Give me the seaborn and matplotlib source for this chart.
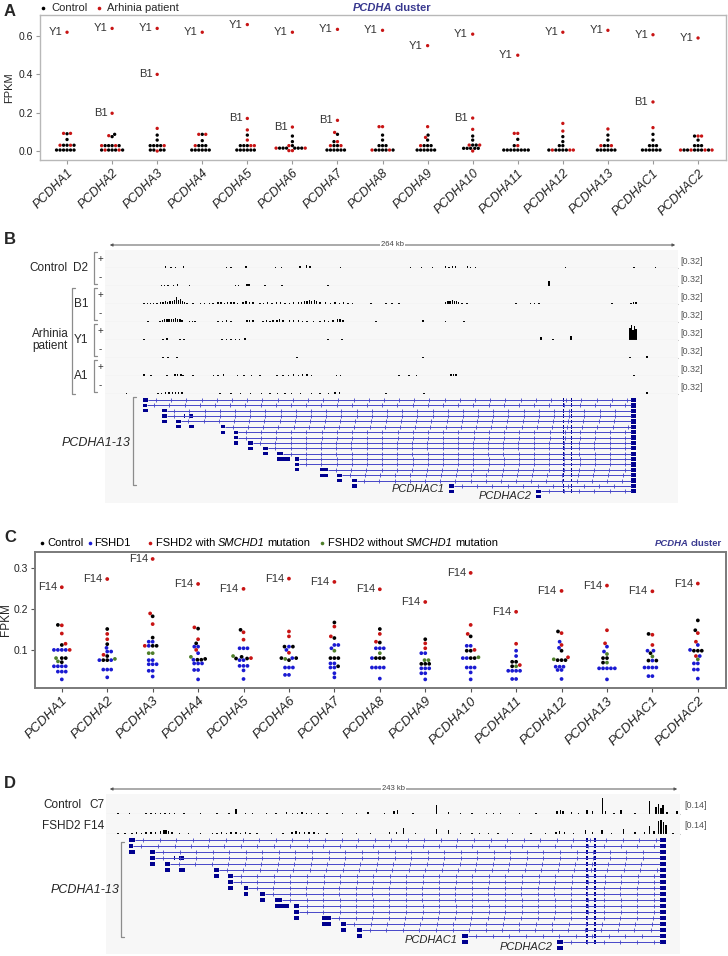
import numpy as np
import pandas as pd
import matplotlib
matplotlib.use("Agg")
import matplotlib.pyplot as plt
from matplotlib import font_manager
from matplotlib.lines import Line2D
from matplotlib.patches import Rectangle, FancyArrowPatch
import seaborn as sns

W, H = 728, 956

genes = ["PCDHA1", "PCDHA2", "PCDHA3", "PCDHA4", "PCDHA5", "PCDHA6", "PCDHA7",
         "PCDHA8", "PCDHA9", "PCDHA10", "PCDHA11", "PCDHA12", "PCDHA13",
         "PCDHAC1", "PCDHAC2"]

# ---- panel A: arhinia RNA-seq, FPKM per gene ----
a_control = [
    [0.09, 0.06, 0.03, 0.03, 0.03, 0.005, 0.005, 0.005, 0.005, 0.005, 0.005],
    [0.087, 0.075, 0.028, 0.028, 0.028, 0.028, 0.005, 0.005, 0.005, 0.005, 0.005],
    [0.083, 0.057, 0.028, 0.028, 0.028, 0.028, 0.005, 0.005, 0.005, 0.005],
    [0.087, 0.054, 0.028, 0.028, 0.028, 0.005, 0.005, 0.005, 0.005, 0.005, 0.005],
    [0.083, 0.028, 0.028, 0.028, 0.005, 0.005, 0.005, 0.005, 0.005, 0.005],
    [0.078, 0.049, 0.028, 0.015, 0.015, 0.015, 0.015, 0.015, 0.015],
    [0.087, 0.049, 0.028, 0.028, 0.005, 0.005, 0.005, 0.005, 0.005, 0.005],
    [0.083, 0.057, 0.028, 0.028, 0.028, 0.005, 0.005, 0.005, 0.005, 0.005],
    [0.083, 0.057, 0.028, 0.028, 0.028, 0.005, 0.005, 0.005, 0.005, 0.005, 0.005],
    [0.078, 0.057, 0.031, 0.031, 0.014, 0.014, 0.014, 0.014, 0.014],
    [0.061, 0.028, 0.005, 0.005, 0.005, 0.005, 0.005, 0.005, 0.005, 0.005],
    [0.075, 0.049, 0.028, 0.028, 0.005, 0.005, 0.005, 0.005, 0.005],
    [0.083, 0.057, 0.028, 0.028, 0.005, 0.005, 0.005, 0.005, 0.005, 0.005],
    [0.087, 0.057, 0.028, 0.028, 0.028, 0.005, 0.005, 0.005, 0.005, 0.005, 0.005],
    [0.078, 0.057, 0.028, 0.028, 0.028, 0.005, 0.005, 0.005, 0.005, 0.005, 0.005],
]
a_patient = [
    [0.092, 0.092, 0.03, 0.03],
    [0.08, 0.028, 0.028, 0.005, 0.005],
    [0.118, 0.0, 0.028],
    [0.087, 0.087, 0.028],
    [0.11, 0.057, 0.028, 0.028],
    [0.028, 0.015, 0.015, 0.002, 0.002],
    [0.097, 0.049, 0.028, 0.028],
    [0.127, 0.127, 0.005, 0.005],
    [0.127, 0.071, 0.028],
    [0.113, 0.031, 0.031, 0.0],
    [0.092, 0.092, 0.028],
    [0.144, 0.104, 0.005, 0.005, 0.005],
    [0.115, 0.028, 0.028],
    [0.122],
    [0.078, 0.078, 0.005, 0.005, 0.005, 0.005],
]
a_y1 = [0.62, 0.64, 0.64, 0.62, 0.66, 0.62, 0.635, 0.63, 0.55, 0.61, 0.50, 0.62, 0.63, 0.607, 0.59]
a_b1 = [None, 0.197, 0.40, None, 0.17, 0.125, 0.16, None, None, 0.172, None, None, None, 0.256, None]

# ---- panel C: FSHD RNA-seq, FPKM per gene ----
c_control = [
    [0.161, 0.112, 0.08, 0.08, 0.07], [0.151, 0.114, 0.085, 0.075, 0.075],
    [0.182, 0.13, 0.11, 0.11], [0.152, 0.116, 0.076, 0.076, 0.078],
    [0.149, 0.079, 0.079, 0.083], [0.108, 0.108, 0.08, 0.08, 0.075],
    [0.167, 0.129, 0.08, 0.08, 0.08, 0.06], [0.151, 0.118, 0.08, 0.08, 0.08],
    [0.126, 0.066, 0.066, 0.066], [0.133, 0.098, 0.098, 0.08, 0.08],
    [0.071, 0.071, 0.06], [0.145, 0.098, 0.075, 0.075, 0.075],
    [0.08, 0.08, 0.069], [0.139, 0.092, 0.074, 0.074],
    [0.172, 0.148, 0.098, 0.098, 0.098],
]
c_fshd1 = [
    [0.1, 0.1, 0.1, 0.1, 0.06, 0.06, 0.06, 0.06, 0.047, 0.047, 0.047, 0.028],
    [0.105, 0.096, 0.096, 0.075, 0.075, 0.052, 0.052, 0.052, 0.033],
    [0.12, 0.12, 0.11, 0.075, 0.075, 0.065, 0.065, 0.065, 0.049, 0.049, 0.035],
    [0.108, 0.108, 0.092, 0.076, 0.067, 0.067, 0.067, 0.051, 0.051, 0.028],
    [0.104, 0.104, 0.104, 0.075, 0.075, 0.061, 0.061, 0.061, 0.05, 0.029],
    [0.108, 0.1, 0.08, 0.057, 0.057, 0.057, 0.039, 0.039],
    [0.112, 0.112, 0.104, 0.067, 0.067, 0.057, 0.057, 0.043, 0.033],
    [0.104, 0.104, 0.104, 0.08, 0.057, 0.057, 0.057, 0.057, 0.03],
    [0.092, 0.092, 0.055, 0.055, 0.055, 0.043, 0.043, 0.028],
    [0.11, 0.11, 0.08, 0.08, 0.057, 0.057, 0.057, 0.045, 0.028],
    [0.098, 0.085, 0.049, 0.049, 0.049, 0.049, 0.029, 0.029],
    [0.12, 0.105, 0.059, 0.059, 0.059, 0.051, 0.051, 0.029],
    [0.108, 0.096, 0.055, 0.055, 0.055, 0.055, 0.055, 0.028],
    [0.098, 0.098, 0.074, 0.057, 0.057, 0.057, 0.057, 0.036, 0.036],
    [0.112, 0.1, 0.085, 0.067, 0.067, 0.052, 0.052, 0.03],
]
c_fshd2_mut = [
    [0.14, 0.115, 0.16, 0.1], [0.139, 0.126, 0.088], [0.189, 0.163, 0.11],
    [0.155, 0.126, 0.1], [0.143, 0.125, 0.08], [0.145, 0.133, 0.093],
    [0.157, 0.133], [0.139, 0.12], [0.116, 0.104], [0.161, 0.139, 0.1],
    [0.115, 0.063], [0.141, 0.112, 0.082], [0.148, 0.116], [0.137, 0.112],
    [0.141, 0.12, 0.085],
]
c_fshd2_nomut = [
    [0.08, 0.072], [0.078], [0.092, 0.092], [0.083], [0.085], [0.078], [0.098],
    [0.092], [0.075, 0.075], [0.082], [0.06], [0.077], [0.09, 0.069], [0.084],
    [0.077],
]
c_f14 = [0.253, 0.273, 0.322, 0.261, 0.249, 0.274, 0.266, 0.248, 0.217, 0.288,
         0.193, 0.244, 0.257, 0.243, 0.262]

# ---- panel B: strand-specific coverage (position kb, height), window 264 kb ----
b_d2_plus = [(28.0, .03), (30.4, .02), (32.6, .02), (36.1, .03), (56.1, .02), (58.1, .02),
             (65.0, .03), (78.5, .02), (81.4, .02), (89.8, .03), (92.9, .05), (94.5, .04),
             (108.6, .02), (140.9, .02), (145.8, .02), (150.8, .02), (157.0, .04), (158.5, .02),
             (160.0, .04), (161.6, .03), (167.0, .03), (168.5, .02), (170.8, .02), (212.3, .01),
             (243.7, .02), (253.7, .02)]
b_d2_minus = [(26.0, .02), (27.5, .02), (29.0, .02), (31.5, .02), (33.5, .03), (39.0, .02),
              (60.0, .02), (61.4, .02), (65.4, .04), (66.4, .03), (73.7, .02), (81.5, .02),
              (102.8, .02), (204.6, .08)]
b_b1_plus = [(18.0, .01), (19.5, .02), (21.0, .01), (22.5, .02), (24.0, .02), (25.5, .03),
             (26.7, .04), (27.8, .05), (28.9, .04), (30.0, .06), (31.0, .05), (32.0, .08),
             (33.0, .12), (34.0, .07), (34.8, .09), (35.6, .06), (36.5, .04), (37.8, .02),
             (40.5, .02), (44.0, .01), (46.0, .02), (48.0, .02), (49.8, .01), (52.0, .03),
             (53.5, .03), (55.0, .02), (56.5, .04), (58.0, .03), (59.5, .03), (61.0, .02),
             (63.6, .04), (65.0, .05), (66.5, .03), (68.2, .04), (71.4, .02), (73.0, .02),
             (75.0, .03), (77.0, .02), (79.0, .03), (81.0, .03), (83.0, .02), (85.0, .02),
             (87.0, .03), (89.0, .03), (90.5, .04), (91.8, .05), (93.0, .06), (94.2, .08),
             (95.3, .06), (96.5, .07), (97.5, .05), (99.0, .04), (101.5, .03), (104.0, .02),
             (106.0, .03), (108.0, .02), (110.0, .03), (112.0, .02), (114.0, .02), (122.6, .02),
             (129.5, .02), (132.2, .02), (135.4, .01), (157.0, .03), (158.0, .05), (159.0, .06),
             (160.0, .07), (161.0, .06), (162.0, .05), (163.0, .03), (164.5, .02), (166.8, .02),
             (189.3, .02), (196.0, .02), (198.0, .02), (200.0, .02), (233.6, .02), (242.3, .02),
             (243.5, .04), (244.6, .03)]
b_b1_minus = [(19.8, .02), (25.3, .02), (26.5, .03), (27.5, .05), (28.5, .06), (29.5, .05),
              (30.5, .06), (31.5, .05), (32.5, .07), (33.5, .06), (34.5, .05), (35.5, .03),
              (39.0, .02), (40.2, .02), (41.5, .02), (52.0, .02), (54.0, .02), (56.0, .03),
              (58.0, .02), (65.4, .03), (66.5, .04), (68.2, .03), (72.8, .02), (74.5, .03),
              (76.0, .02), (77.4, .03), (79.3, .04), (80.5, .06), (82.0, .04), (85.0, .03),
              (87.0, .04), (89.0, .03), (91.0, .02), (93.0, .02), (96.0, .02), (99.0, .02),
              (101.0, .03), (103.0, .02), (105.0, .03), (107.0, .05), (108.3, .06), (109.6, .03),
              (124.8, .02), (146.5, .03), (157.0, .02), (165.4, .02)]
b_y1_plus = [(18.0, .02), (26.7, .02), (28.6, .03), (34.5, .02), (36.4, .02), (53.9, .02),
             (56.0, .02), (58.0, .02), (60.0, .02), (62.0, .02), (64.5, .03), (102.8, .02),
             (109.2, .02), (200.9, .05), (206.4, .02), (214.7, .07), (241.9, .22), (242.6, .26),
             (243.3, .18), (244.0, .25), (244.6, .20)]
b_y1_minus = [(26.7, .02), (29.0, .02), (33.2, .02), (88.5, .02), (146.5, .02), (241.9, .02),
              (249.7, .04)]
b_a1_plus = [(18.0, .03), (21.2, .02), (28.6, .02), (32.2, .03), (33.5, .04), (35.0, .03),
             (36.0, .02), (40.5, .02), (50.0, .02), (52.0, .02), (54.5, .03), (61.0, .02),
             (64.0, .02), (67.5, .02), (71.4, .02), (79.3, .02), (82.0, .02), (84.5, .02),
             (87.0, .03), (89.0, .02), (91.0, .03), (93.0, .03), (95.0, .02), (106.6, .02),
             (108.6, .02), (135.4, .02), (140.0, .02), (143.4, .02), (159.4, .03), (160.5, .04),
             (161.7, .03), (243.7, .02)]
b_a1_minus = [(10.0, .02), (24.4, .02), (26.0, .02), (28.0, .03), (29.5, .03), (31.0, .03),
              (32.5, .03), (34.0, .04), (35.5, .03), (53.0, .02), (58.0, .02), (62.5, .02),
              (67.0, .02), (72.0, .02), (76.0, .02), (79.5, .02), (83.0, .02), (86.0, .02),
              (90.0, .02), (95.0, .02), (99.0, .02), (103.0, .02), (106.0, .03), (108.0, .04),
              (129.5, .02), (147.0, .02), (249.7, .03)]

# ---- panel D: coverage (position kb in the 243 kb window, height) ----
d_c7 = [(5, .005), (10, .005), (17, .008), (19, .01), (21, .008), (23, .006), (25, .008),
        (27, .01), (29, .006), (33, .005), (40, .004), (47, .005), (52, .006), (55, .035),
        (59, .008), (62, .01), (68, .006), (72, .005), (76.3, .015), (79, .008), (81, .01),
        (83, .012), (85, .01), (87, .008), (90, .008), (93.5, .006), (100, .005), (106, .006),
        (111, .015), (118, .005), (122, .02), (123.5, .03), (130, .005), (140, .06), (145, .015),
        (150, .006), (155, .005), (161, .006), (164, .008), (167, .005), (175, .005), (182, .006),
        (191, .02), (192.5, .025), (193.5, .02), (197, .015), (200, .008), (203.7, .025),
        (206, .018), (210.3, .11), (211.5, .02), (215, .008), (218, .025), (224, .008),
        (230, .09), (232.8, .05), (234, .07), (235, .04), (235.8, .065), (237.5, .015),
        (241.7, .02)]
d_f14 = [(5, .005), (8, .006), (11, .01), (13, .012), (15, .01), (17, .012), (19, .015),
         (21, .012), (23, .018), (24.5, .025), (25.4, .03), (26.5, .02), (28, .012), (31, .008),
         (35, .006), (40, .005), (45, .006), (47, .01), (49, .012), (51, .01), (53, .012),
         (55, .015), (57, .01), (59, .012), (61, .01), (64, .008), (70, .006), (75, .008),
         (78.7, .015), (80.5, .02), (82, .015), (84, .012), (86, .015), (88, .012), (90, .01),
         (93.5, .008), (100, .006), (106, .008), (112, .008), (120, .015), (123, .012),
         (126, .04), (131, .006), (140, .035), (145, .03), (150, .01), (155, .008), (158, .008),
         (162, .006), (166, .008), (172, .006), (180, .006), (186, .008), (190.5, .015),
         (192, .02), (194, .012), (198, .01), (203, .025), (206, .012), (210, .03), (214, .01),
         (219, .035), (224, .012), (228, .015), (230, .055), (232, .02), (234, .09), (235, .1),
         (236, .085), (237, .06), (240, .01)]
d_window_start = 7.7  # kb offset of the panel D window relative to panel B

# ---- PCDHA gene models (kb, panel B coordinates) ----
exons = [(0, 17.6, 20.0), (1, 17.6, 19.2), (2, 17.6, 20.0), (2, 26.4, 28.4),
         (3, 26.4, 28.4), (3, 36.3, 36.7), (3, 38.7, 40.7), (4, 26.4, 28.4), (4, 32.7, 34.9),
         (5, 32.7, 34.9), (5, 38.7, 41.0), (5, 53.3, 55.4), (6, 53.3, 55.4), (6, 59.4, 61.3),
         (7, 59.4, 61.3), (8, 59.4, 61.3), (8, 66.0, 68.0), (9, 66.0, 68.0), (9, 72.9, 75.0),
         (10, 72.9, 75.0), (10, 79.4, 82.1), (11, 79.4, 85.2), (11, 87.4, 89.2),
         (12, 87.4, 89.2), (13, 87.4, 89.2), (13, 99.0, 102.9), (14, 99.0, 102.9),
         (14, 107.0, 109.2), (15, 107.0, 109.2), (15, 113.9, 115.9), (16, 113.9, 115.9),
         (16, 158.5, 161.0), (17, 158.5, 161.0), (17, 198.6, 201.0), (18, 198.6, 201.0)]
intron_starts = [20.0, 19.2, 28.4, 28.4, 34.9, 55.4, 61.3, 61.3, 68.0, 75.0, 82.1, 89.2,
                 89.2, 102.9, 109.2, 115.9, 161.0, 201.0]
const_exons = [(211.0, 211.6), (214.5, 215.1)]
last_exon = (242.3, 244.6)

RED = "#c81414"
BLUE = "#1a1ad2"
GREEN = "#4f7f2a"
NAVY = "#00008f"
LINE_BLUE = "#4646c8"
CLUSTER = "#38388f"
BG = "#f7f7f7"

sns.set_style("ticks")
plt.rcParams["font.family"] = ["Liberation Sans", "DejaVu Sans"]
available = {f.name for f in font_manager.fontManager.ttflist}
NARROW = ["Liberation Sans Narrow", "Liberation Sans", "DejaVu Sans"] \
    if "Liberation Sans Narrow" in available else ["Liberation Sans", "DejaVu Sans"]

fig = plt.figure(figsize=(W / 100, H / 100), dpi=100)
renderer = fig.canvas.get_renderer()


def fx(px):
    return px / W


def fy(py):
    return 1 - py / H


def px_ax(x0, y0, x1, y1):
    return fig.add_axes([fx(x0), fy(y1), (x1 - x0) / W, (y1 - y0) / H])


def put_parts(x, y, parts, size, family=None):
    # parts: (text, style, weight, color, gap after in px)
    for s, style, weight, color, gap in parts:
        t = fig.text(fx(x), fy(y), s, ha="left", va="center", fontsize=size,
                     style=style, weight=weight, color=color,
                     family=family or plt.rcParams["font.family"])
        x += t.get_window_extent(renderer).width + gap
    return x


def dot(x, y, color, ms=2.6):
    fig.add_artist(Line2D([fx(x)], [fy(y)], marker="o", ms=ms, mew=0, color=color, ls="none"))


def bracket(x, y0, y1, tick=2.5, color="#8c8c8c"):
    fig.add_artist(Line2D([fx(x + tick), fx(x), fx(x), fx(x + tick)],
                          [fy(y0), fy(y0), fy(y1), fy(y1)], color=color, lw=0.9))


def scale_bar(x0, x1, y, label):
    fig.add_artist(FancyArrowPatch((fx(x0), fy(y)), (fx(x1), fy(y)), transform=fig.transFigure,
                                   arrowstyle="<|-|>", mutation_scale=4, lw=0.7, color="#555555"))
    fig.text(fx((x0 + x1) / 2), fy(y), label, ha="center", va="center", fontsize=5.5,
             color="#444444", family=NARROW, bbox=dict(fc="white", ec="none", pad=0.6))


def track(x0, x1, top, bottom, xlim, ymax, bars):
    ax = px_ax(x0, top, x1, bottom)
    pos, h = zip(*bars)
    ax.bar(pos, h, width=0.6, color="black", linewidth=0)
    ax.axhline(0, color="#c4c4c4", lw=0.8, clip_on=False)
    ax.set_xlim(*xlim)
    ax.set_ylim(0, ymax)
    ax.set_facecolor(BG)
    ax.set_xticks([])
    ax.set_yticks([])
    for s in ax.spines.values():
        s.set_visible(False)
    return ax


def gene_models(ax, xlim, ylim):
    for r, s in enumerate(intron_starts):
        ax.plot([s, last_exon[0]], [r, r], color=LINE_BLUE, lw=0.7, solid_capstyle="butt")
        marks = np.arange(s + 3.5, last_exon[0] - 1, 7.0)
        ax.plot(marks, np.full(len(marks), r), ls="none", marker="|", ms=2.2, mew=0.6,
                color=LINE_BLUE)
        for a, b in const_exons:
            ax.add_patch(Rectangle((a, r - 0.36), b - a, 0.72, color=NAVY, lw=0))
        ax.add_patch(Rectangle((last_exon[0], r - 0.4), last_exon[1] - last_exon[0], 0.8,
                               color=NAVY, lw=0))
    for r, a, b in exons:
        ax.add_patch(Rectangle((a, r - 0.3), b - a, 0.6, color=NAVY, lw=0))
    ax.text(158.5 - 2.0, 16.6, "PCDHAC1", ha="right", va="center", style="italic", fontsize=8)
    ax.text(198.6 - 2.0, 17.9, "PCDHAC2", ha="right", va="center", style="italic", fontsize=8)
    ax.set_xlim(*xlim)
    ax.set_ylim(*ylim)
    ax.set_facecolor(BG)
    ax.set_xticks([])
    ax.set_yticks([])
    for s in ax.spines.values():
        s.set_visible(False)


def panel_label(x, y, s):
    fig.text(fx(x), fy(y), s, ha="center", va="center", fontsize=12, weight="bold")


# ================= Panel A =================
rows = []
for g, ctrl, pat, y1, b1 in zip(genes, a_control, a_patient, a_y1, a_b1):
    rows += [(g, v, "Control") for v in ctrl]
    extra = [y1] + ([b1] if b1 is not None else [])
    rows += [(g, v, "Arhinia patient") for v in pat + extra]
dfA = pd.DataFrame(rows, columns=["gene", "FPKM", "group"])

axA = px_ax(40, 15, 726, 160)
sns.swarmplot(data=dfA, x="gene", y="FPKM", hue="group", order=genes,
              hue_order=["Control", "Arhinia patient"],
              palette={"Control": "black", "Arhinia patient": RED},
              size=2.4, linewidth=0, legend=False, ax=axA)
axA.set_xlim(-0.6, 14.62)
axA.set_ylim(-0.047, 0.71)
axA.set_yticks([0, 0.2, 0.4, 0.6])
axA.set_yticklabels(["0.0", "0.2", "0.4", "0.6"])
axA.set_xlabel("")
axA.set_ylabel("FPKM", fontsize=8)
axA.yaxis.set_label_coords((14 - 40) / 686, 0.5)
axA.set_xticks(range(len(genes)))
axA.set_xticklabels(genes, rotation=45, ha="right", rotation_mode="anchor",
                    style="italic", fontsize=9)
axA.tick_params(length=3, color="#9a9a9a", labelsize=7.5, pad=2, labelcolor="#222222")
axA.tick_params(axis="x", labelsize=9)
for s in axA.spines.values():
    s.set_color("#b8b8b8")
    s.set_linewidth(1)
for i, (y1, b1) in enumerate(zip(a_y1, a_b1)):
    axA.annotate("Y1", (i, y1), xytext=(-3.5, 0), textcoords="offset points",
                 ha="right", va="center", fontsize=8, color="#333333")
    if b1 is not None:
        axA.annotate("B1", (i, b1), xytext=(-3.5, 0), textcoords="offset points",
                     ha="right", va="center", fontsize=8, color="#333333")

panel_label(10, 12, "A")
dot(43, 8, "black")
fig.text(fx(51), fy(8), "Control", ha="left", va="center", fontsize=8)
dot(99, 8, RED)
fig.text(fx(107), fy(8), "Arhinia patient", ha="left", va="center", fontsize=8)
put_parts(353, 8, [("PCDHA", "italic", "bold", CLUSTER, 2.5),
                   ("cluster", "normal", "bold", CLUSTER, 0)], 8)

# ================= Panel B =================
panel_label(10, 240, "B")
scale_bar(107, 678, 245, "264 kb")
b_tracks = [b_d2_plus, b_d2_minus, b_b1_plus, b_b1_minus,
            b_y1_plus, b_y1_minus, b_a1_plus, b_a1_minus]
for k, bars in enumerate(b_tracks):
    top = 250 + 18 * k
    track(105, 678, top, top + 18, (0, 264), 0.32, bars)
    fig.text(fx(680), fy(top + 11), "[0.32]", ha="left", va="center", fontsize=6.5,
             color="#555555", family=NARROW)
    fig.text(fx(100), fy(top + 9), "+" if k % 2 == 0 else "-", ha="center", va="center",
             fontsize=7, color="#333333")
for k, name in enumerate(["D2", "B1", "Y1", "A1"]):
    top = 250 + 36 * k
    bracket(94, top + 2, top + 34)
    fig.text(fx(81), fy(top + 18), name, ha="center", va="center", fontsize=8.5)
fig.text(fx(68), fy(268), "Control", ha="right", va="center", fontsize=8.5)
bracket(72, 288, 394)
fig.text(fx(50), fy(340), "Arhinia\npatient", ha="center", va="center", fontsize=8.5,
         linespacing=1.1)
axBg = px_ax(105, 394, 678, 503)
gene_models(axBg, (0, 264), ((503 - 400) / 5.37, (394 - 400) / 5.37))
bracket(133, 397, 485)
fig.text(fx(130), fy(443), "PCDHA1-13", ha="right", va="center", fontsize=9, style="italic")

# ================= Panel C =================
rows = []
for g, ctrl, f1, mut, nomut, f14 in zip(genes, c_control, c_fshd1, c_fshd2_mut,
                                         c_fshd2_nomut, c_f14):
    rows += [(g, v, "Control") for v in ctrl]
    rows += [(g, v, "FSHD1") for v in f1]
    rows += [(g, v, "FSHD2 mut") for v in mut + [f14]]
    rows += [(g, v, "FSHD2 no mut") for v in nomut]
dfC = pd.DataFrame(rows, columns=["gene", "FPKM", "group"])

axC = px_ax(35, 552, 726, 688)
sns.swarmplot(data=dfC, x="gene", y="FPKM", hue="group", order=genes,
              hue_order=["FSHD1", "Control", "FSHD2 mut", "FSHD2 no mut"],
              palette={"Control": "black", "FSHD1": BLUE, "FSHD2 mut": RED,
                       "FSHD2 no mut": GREEN},
              size=2.7, linewidth=0, legend=False, ax=axC)
axC.set_xlim(-0.59, 14.62)
axC.set_ylim(0.007, 0.339)
axC.set_yticks([0.1, 0.2, 0.3])
axC.set_yticklabels(["0.1", "0.2", "0.3"], family=NARROW)
axC.set_xlabel("")
axC.set_ylabel("FPKM", fontsize=8.5, family=NARROW)
axC.yaxis.set_label_coords((12 - 35) / 691, 0.5)
axC.set_xticks(range(len(genes)))
axC.set_xticklabels(genes, rotation=45, ha="right", rotation_mode="anchor",
                    style="italic", fontsize=9.5, family=NARROW)
axC.tick_params(length=3, color="#555555", labelsize=7.5, pad=2, labelcolor="#222222")
axC.tick_params(axis="x", labelsize=9.5)
for s in axC.spines.values():
    s.set_color("#7a7a7a")
    s.set_linewidth(1.4)
for i, f14 in enumerate(c_f14):
    axC.annotate("F14", (i, f14), xytext=(-3.5, 0), textcoords="offset points",
                 ha="right", va="center", fontsize=8, color="#333333")

panel_label(10, 538, "C")
legend_items = [
    (42, 47, "black", [("Control", "normal", "normal", "black", 0)]),
    (90, 94, BLUE, [("FSHD1", "normal", "normal", "black", 0)]),
    (150, 156, RED, [("FSHD2 with", "normal", "normal", "black", 2.5),
                     ("SMCHD1", "italic", "normal", "black", 2.5),
                     ("mutation", "normal", "normal", "black", 0)]),
    (322, 328, GREEN, [("FSHD2 without", "normal", "normal", "black", 2.5),
                       ("SMCHD1", "italic", "normal", "black", 2.5),
                       ("mutation", "normal", "normal", "black", 0)]),
]
for bx, tx, col, parts in legend_items:
    dot(bx, 543, col)
    put_parts(tx, 543, parts, 8, family=NARROW)
put_parts(655, 543, [("PCDHA", "italic", "bold", CLUSTER, 2.0),
                     ("cluster", "normal", "bold", CLUSTER, 0)], 6.8, family=NARROW)

# ================= Panel D =================
panel_label(10, 783, "D")
scale_bar(107, 680, 789, "243 kb")
for k, (bars, top) in enumerate([(d_c7, 794), (d_f14, 814)]):
    track(106, 680, top, top + 20, (0, 243), 0.14, bars)
    fig.text(fx(684), fy(top + 11), "[0.14]", ha="left", va="center", fontsize=6.5,
             color="#555555", family=NARROW)
fig.text(fx(82), fy(805), "Control", ha="right", va="center", fontsize=8.5, family=NARROW)
fig.text(fx(89), fy(805), "C7", ha="left", va="center", fontsize=8.5, family=NARROW)
fig.text(fx(104), fy(826), "FSHD2 F14", ha="right", va="center", fontsize=8.5, family=NARROW)
axDg = px_ax(106, 834, 680, 954)
gene_models(axDg, (d_window_start, d_window_start + 243), ((954 - 840) / 6, (834 - 840) / 6))
bracket(121.5, 842, 937)
fig.text(fx(119), fy(890), "PCDHA1-13", ha="right", va="center", fontsize=9, style="italic")

fig.savefig("out.png", dpi=100)
